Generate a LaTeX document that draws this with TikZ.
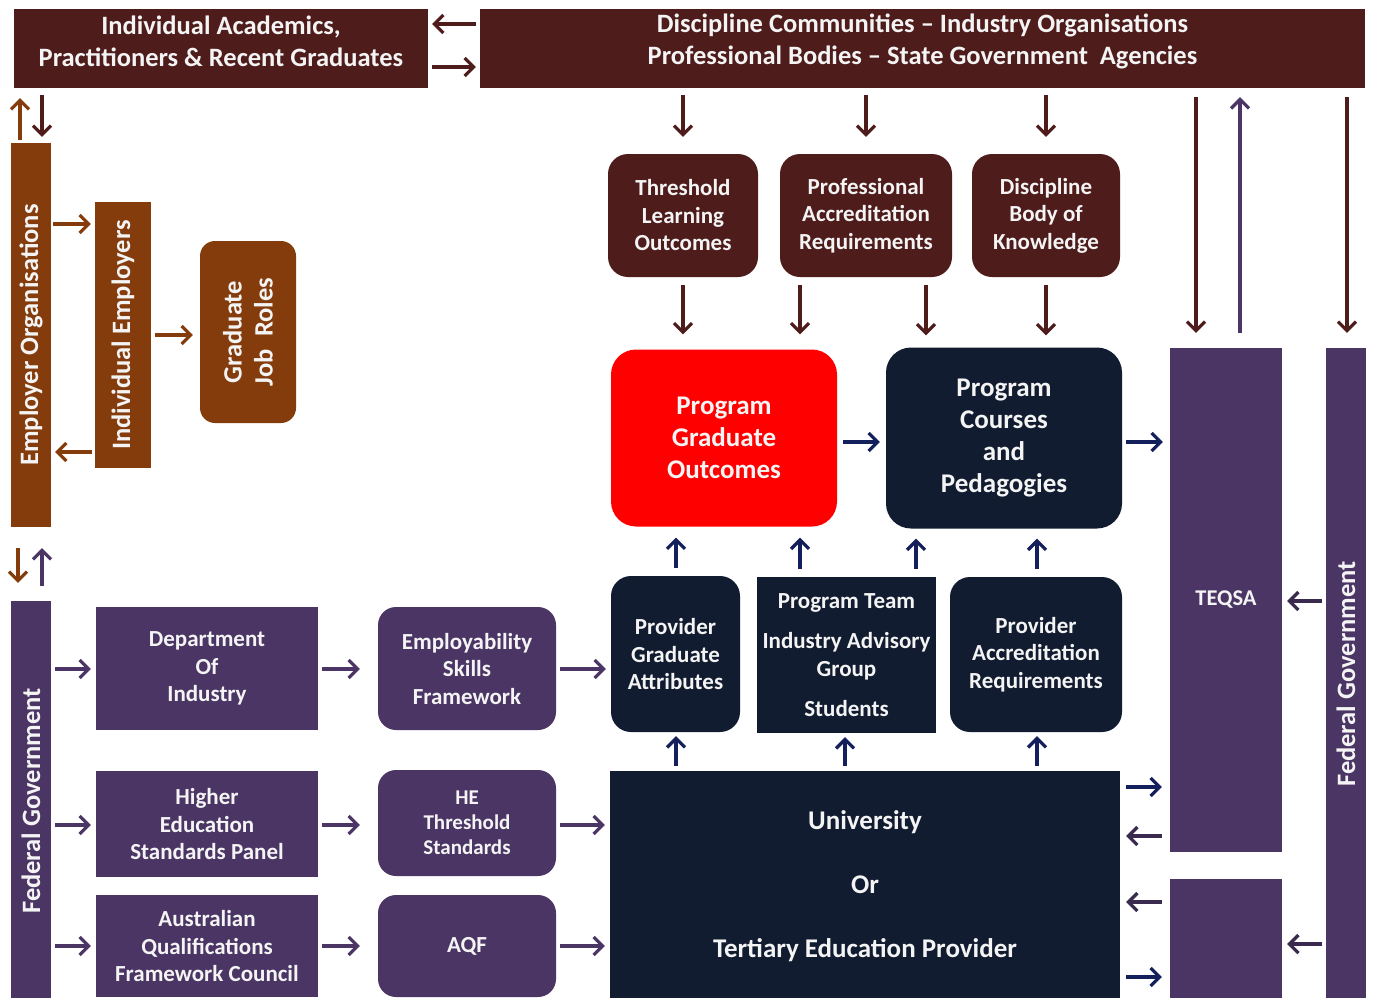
\documentclass[tikz,border=0pt]{standalone}
\usepackage{fontspec}
\setmainfont{Carlito}
\usetikzlibrary{arrows.meta}
\definecolor{cMaroon}{HTML}{4F1C1C}
\definecolor{cOrange}{HTML}{843C0C}
\definecolor{cPurple}{HTML}{4B3565}
\definecolor{cNavy}{HTML}{111C30}
\definecolor{cRed}{HTML}{FF0000}
\definecolor{cArrNavy}{HTML}{13205B}
\definecolor{cArrDP}{HTML}{3A2B4E}
\definecolor{cText}{HTML}{F4F4F4}
\begin{document}
\begin{tikzpicture}[x=1pt,y=-1pt,
  box/.style={rectangle, draw=none, inner sep=0pt, text=cText, align=center,
    font=\bfseries\fontsize{23}{27.5}\selectfont},
  rbox/.style={box, rounded corners=18pt},
  ftop/.style={font=\bfseries\fontsize{26.5}{32}\selectfont, text=cText, align=center, inner sep=0pt},
  fbig/.style={font=\bfseries\fontsize{27}{32}\selectfont},
  frot/.style={font=\bfseries\fontsize{26.5}{31}\selectfont, text=cText, align=center, inner sep=0pt},
  arr/.style={line width=3.2pt, -{Straight Barb[length=9pt,width=18pt]}},
  g/.style 2 args={shorten <=#1pt, shorten >=#2pt},
]
\clip (0,0) rectangle (1375,997);
\fill[white] (0,0) rectangle (1375,997);

% top boxes
\node[box, fill=cMaroon, minimum width=414, minimum height=79,
  label={[ftop, yshift=7.5pt]center:Individual Academics,\\Practitioners \& Recent Graduates}] (acad) at (221,48.5) {};
\node[box, fill=cMaroon, minimum width=885, minimum height=79,
  label={[ftop, yshift=7.5pt]center:Discipline Communities -- Industry Organisations\\Professional Bodies -- State Government\ \ Agencies}] (disc) at (922.5,48.5) {};

% employer column
\node[box, fill=cOrange, minimum width=40, minimum height=384,
  label={[frot,rotate=90]center:Employer Organisations}] (emporg) at (31,335) {};
\node[box, fill=cOrange, minimum width=56, minimum height=266,
  label={[frot,rotate=90]center:Individual Employers}] (indemp) at (123,335) {};
\node[box, fill=cOrange, rounded corners=15pt, minimum width=96, minimum height=182,
  label={[frot,rotate=90]center:Graduate\\Job\ \ Roles}] (gjr) at (248,332) {};

% federal government left
\node[box, fill=cPurple, minimum width=40, minimum height=400,
  label={[frot,rotate=90]center:Federal Government}] (fedL) at (31,801) {};
\node[box, fill=cPurple, minimum width=222, minimum height=123] (doi) at (207,668.5) {Department\\Of\\Industry};
\node[box, fill=cPurple, minimum width=222, minimum height=106] (hesp) at (207,824) {Higher\\Education\\Standards Panel};
\node[box, fill=cPurple, minimum width=222, minimum height=102] (aqfc) at (207,946) {Australian\\Qualifications\\Framework Council};
\node[rbox, fill=cPurple, minimum width=178, minimum height=123] (esf) at (467,668.5) {Employability\\Skills\\Framework};
\node[rbox, fill=cPurple, minimum width=178, minimum height=106,
  font=\bfseries\fontsize{21}{25}\selectfont] (hets) at (467,823) {HE\\Threshold\\Standards};
\node[rbox, fill=cPurple, minimum width=178, minimum height=102] (aqf) at (467,946) {AQF};

% threshold row
\node[rbox, fill=cMaroon, rounded corners=20pt, minimum width=150, minimum height=123] (tlo) at (683,215.5) {Threshold\\Learning\\Outcomes};
\node[rbox, fill=cMaroon, rounded corners=20pt, minimum width=172, minimum height=123] (par) at (866,215.5) {Professional\\Accreditation\\Requirements};
\node[rbox, fill=cMaroon, rounded corners=20pt, minimum width=148, minimum height=123] (dbk) at (1046,215.5) {Discipline\\Body of\\Knowledge};

% program boxes
\node[rbox, fbig, fill=cRed, rounded corners=25pt, minimum width=226, minimum height=177] (pgo) at (724,438) {Program\\Graduate\\Outcomes};
\node[rbox, fbig, fill=cNavy, rounded corners=25pt, minimum width=236, minimum height=181] (pcp) at (1004,438) {Program\\Courses\\and\\Pedagogies};

% provider row
\node[rbox, fill=cNavy, rounded corners=20pt, minimum width=129, minimum height=156] (pga) at (675.5,654) {Provider\\Graduate\\Attributes};
\node[box, fill=cNavy, minimum width=179, minimum height=156] (pt) at (846.5,655) {Program Team\\[13pt]Industry Advisory\\Group\\[13pt]Students};
\node[rbox, fill=cNavy, rounded corners=20pt, minimum width=172, minimum height=155] (par2) at (1036,654.5) {Provider\\Accreditation\\Requirements};

% university
\node[box, fill=cNavy, minimum width=510, minimum height=230,
  font=\bfseries\fontsize{27}{64}\selectfont] (uni) at (865,886) {University\\Or\\Tertiary Education Provider};

% TEQSA and federal government right
\node[box, fill=cPurple, minimum width=112, minimum height=504,
  font=\bfseries\fontsize{22.5}{24}\selectfont] (teqsa) at (1226,600) {TEQSA};
\node[box, fill=cPurple, minimum width=112, minimum height=121] (teqsa2) at (1226,939.5) {};
\node[box, fill=cPurple, minimum width=40, minimum height=652,
  label={[frot,rotate=90]center:Federal Government}] (fedR) at (1346,674) {};

% ---- arrows ----
\draw[arr, cMaroon, g={4}{4}] (disc.west |- 0,24) -- (acad.east |- 0,24);
\draw[arr, cMaroon, g={4}{4}] (acad.east |- 0,67) -- (disc.west |- 0,67);

\draw[arr, cOrange, g={3}{10}] (emporg.north -| 20,0) -- (acad.south -| 20,0);
\draw[arr, cMaroon, g={7}{6}] (acad.south -| 42,0) -- (emporg.north -| 42,0);

\draw[arr, cOrange, g={2}{4}] (emporg.east |- 0,224) -- (indemp.west |- 0,224);
\draw[arr, cOrange, g={3}{4}] (indemp.west |- 0,452) -- (emporg.east |- 0,452);
\draw[arr, cOrange, g={4}{7}] (indemp.east |- 0,335) -- (gjr.west |- 0,335);

\draw[arr, cOrange, g={21}{18}] (emporg.south -| 18,0) -- (fedL.north -| 18,0);
\draw[arr, cPurple, g={15}{21}] (fedL.north -| 42,0) -- (emporg.south -| 42,0);

\foreach \yy/\a/\b/\c in {669/doi/esf/pga, 825/hesp/hets/uni, 946/aqfc/aqf/uni}{
  \draw[arr, cPurple, g={4}{5}] (fedL.east |- 0,\yy) -- (\a.west |- 0,\yy);
  \draw[arr, cPurple, g={4}{18}] (\a.east |- 0,\yy) -- (\b.west |- 0,\yy);
  \draw[arr, cPurple, g={4}{5}] (\b.east |- 0,\yy) -- (\c.west |- 0,\yy);
}

\draw[arr, cMaroon, g={7}{17}] (disc.south -| 683,0) -- (tlo.north -| 683,0);
\draw[arr, cMaroon, g={7}{17}] (disc.south -| 866,0) -- (par.north -| 866,0);
\draw[arr, cMaroon, g={7}{17}] (disc.south -| 1046,0) -- (dbk.north -| 1046,0);

\draw[arr, cMaroon, g={8}{15}] (tlo.south -| 683,0) -- (pgo.north -| 683,0);
\draw[arr, cMaroon, g={8}{15}] (par.south -| 800,0) -- (pgo.north -| 800,0);
\draw[arr, cMaroon, g={8}{12}] (par.south -| 926,0) -- (pcp.north -| 926,0);
\draw[arr, cMaroon, g={8}{12}] (dbk.south -| 1046,0) -- (pcp.north -| 1046,0);

\draw[arr, cArrNavy, g={6}{6}] (pgo.east |- 0,442) -- (pcp.west |- 0,442);
\draw[arr, cArrNavy, g={4}{7}] (pcp.east |- 0,442) -- (teqsa.west |- 0,442);

\draw[arr, cArrNavy, g={8}{11}] (pga.north -| 676,0) -- (pgo.south -| 676,0);
\draw[arr, cArrNavy, g={8}{11}] (pt.north -| 800,0) -- (pgo.south -| 800,0);
\draw[arr, cArrNavy, g={8}{10}] (pt.north -| 916,0) -- (pcp.south -| 916,0);
\draw[arr, cArrNavy, g={8}{10}] (par2.north -| 1037,0) -- (pcp.south -| 1037,0);

\draw[arr, cArrNavy, g={5}{4}] (uni.north -| 676,0) -- (pga.south -| 676,0);
\draw[arr, cArrNavy, g={5}{4}] (uni.north -| 845,0) -- (pt.south -| 845,0);
\draw[arr, cArrNavy, g={5}{4}] (uni.north -| 1037,0) -- (par2.south -| 1037,0);

\draw[arr, cArrNavy, g={6}{8}] (uni.east |- 0,787) -- (teqsa.west |- 0,787);
\draw[arr, cArrDP, g={8}{6}] (teqsa.west |- 0,836) -- (uni.east |- 0,836);
\draw[arr, cArrDP, g={8}{6}] (teqsa2.west |- 0,902) -- (uni.east |- 0,902);
\draw[arr, cArrNavy, g={6}{8}] (uni.east |- 0,977) -- (teqsa2.west |- 0,977);

\draw[arr, cArrDP, g={4}{5}] (fedR.west |- 0,601) -- (teqsa.east |- 0,601);
\draw[arr, cArrDP, g={4}{5}] (fedR.west |- 0,944) -- (teqsa2.east |- 0,944);

\draw[arr, cMaroon, g={9}{15}] (disc.south -| 1196,0) -- (teqsa.north -| 1196,0);
\draw[arr, cPurple, g={15}{9}] (teqsa.north -| 1240,0) -- (disc.south -| 1240,0);
\draw[arr, cMaroon, g={9}{15}] (disc.south -| 1347,0) -- (fedR.north -| 1347,0);
\end{tikzpicture}
\end{document}
